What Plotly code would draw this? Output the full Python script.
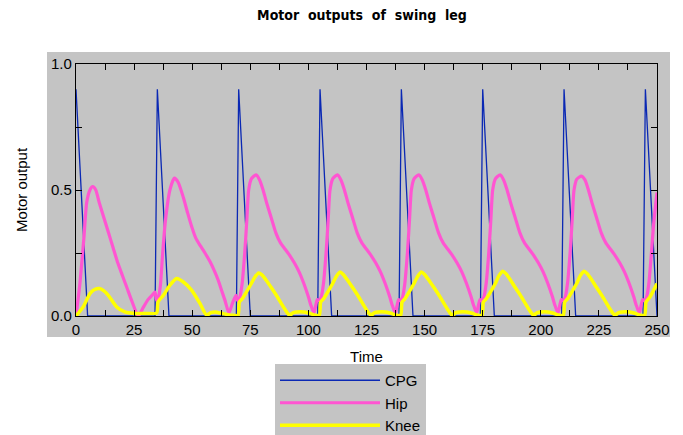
import plotly.graph_objects as go

# ---- data ----
cpg_time = [0, 5, 34, 35, 40, 69, 70, 75, 104, 105, 110, 139, 140, 145,
            174, 175, 180, 209, 210, 215, 244, 245, 250]
cpg_value = [0.9, 0, 0, 0.9, 0, 0, 0.9, 0, 0, 0.9, 0, 0, 0.9, 0,
             0, 0.9, 0, 0, 0.9, 0, 0, 0.9, 0]

hip_time = [
    0, 1.7, 3.4, 4.6, 6, 7.2, 8.5, 10, 12, 14, 16, 18, 20, 22, 24, 26.8, 29, 31, 33, 34, 34.7,
    35.5, 36.3, 37.3, 38.5, 40.4, 42.3, 44, 46.2, 48, 49.8, 51.5, 53.4, 55.5, 57.7, 59.5, 61.2, 62.7, 64.1, 65.8, 67.3, 68.8, 69.6,
    70.5, 71.5, 72.6, 73.5, 74.3, 75.5, 77.5, 79, 80.5, 82, 84, 86, 88, 90, 92, 94, 96, 98, 100, 101, 102.4, 103.8, 104.6,
    105.5, 106.5, 107.6, 108.5, 109.3, 110.5, 112.5, 114, 115.5, 117, 119, 121, 123, 125, 127, 129, 131, 133, 135, 136, 137.4, 138.8, 139.6,
    140.5, 141.5, 142.6, 143.5, 144.3, 145.5, 147.5, 149, 150.5, 152, 154, 156, 158, 160, 162, 164, 166, 168, 170, 171, 172.4, 173.8, 174.6,
    175.5, 176.5, 177.6, 178.5, 179.3, 180.5, 182.5, 184, 185.5, 187, 189, 191, 193, 195, 197, 199, 201, 203, 205, 206, 207.4, 208.8, 209.6,
    210.5, 211.5, 212.6, 213.5, 214.3, 215.5, 217.5, 219, 220.5, 222, 224, 226, 228, 230, 232, 234, 236, 238, 240, 241, 242.4, 243.8, 244.6,
    245.5, 246.5, 247.6, 248.5, 250,
]
hip_value = [
    0, 0.13, 0.31, 0.45, 0.50, 0.513, 0.50, 0.45, 0.39, 0.33, 0.27, 0.21, 0.16, 0.11, 0.06, 0.0, 0.035, 0.065, 0.085, 0.095, 0.062,
    0.075, 0.12, 0.25, 0.38, 0.50, 0.547, 0.53, 0.47, 0.41, 0.354, 0.31, 0.28, 0.25, 0.215, 0.18, 0.142, 0.10, 0.062, 0.012, 0.05, 0.082, 0.06,
    0.075, 0.13, 0.25, 0.38, 0.50, 0.545, 0.56, 0.54, 0.50, 0.45, 0.39, 0.33, 0.29, 0.265, 0.24, 0.21, 0.175, 0.13, 0.076, 0.045, 0.012, 0.065, 0.062,
    0.075, 0.13, 0.25, 0.38, 0.50, 0.545, 0.56, 0.54, 0.50, 0.45, 0.39, 0.33, 0.29, 0.265, 0.24, 0.21, 0.175, 0.13, 0.076, 0.045, 0.012, 0.065, 0.062,
    0.075, 0.13, 0.25, 0.38, 0.50, 0.545, 0.56, 0.54, 0.50, 0.45, 0.39, 0.33, 0.29, 0.265, 0.24, 0.21, 0.175, 0.13, 0.076, 0.045, 0.012, 0.065, 0.062,
    0.075, 0.13, 0.25, 0.38, 0.50, 0.545, 0.56, 0.54, 0.50, 0.45, 0.39, 0.33, 0.29, 0.265, 0.24, 0.21, 0.175, 0.13, 0.076, 0.045, 0.012, 0.065, 0.062,
    0.075, 0.13, 0.25, 0.38, 0.50, 0.543, 0.555, 0.54, 0.50, 0.45, 0.39, 0.33, 0.29, 0.265, 0.24, 0.21, 0.175, 0.13, 0.076, 0.045, 0.012, 0.065, 0.062,
    0.075, 0.13, 0.25, 0.36, 0.49,
]

knee_time = [
    0, 3.1, 6, 8, 10, 12, 13.9, 17.5, 21, 25, 30, 34.7,
    35.3, 37.6, 40.4, 43.3, 46.2, 49.8, 53.4, 56.2, 58, 59.8, 63.4, 67, 69.7,
    70.3, 71.5, 73, 75.5, 77, 78.6, 80, 82, 84, 86, 88, 90, 91.8, 93.5, 95, 98, 100, 103, 104.7,
    105.3, 106.5, 108, 110.5, 112, 113.6, 115, 117, 119, 121, 123, 125, 126.8, 128.5, 130, 133, 135, 138, 139.7,
    140.3, 141.5, 143, 145.5, 147, 148.6, 150, 152, 154, 156, 158, 160, 161.8, 163.5, 165, 168, 170, 173, 174.7,
    175.3, 176.5, 178, 180.5, 182, 183.6, 185, 187, 189, 191, 193, 195, 196.8, 198.5, 200, 203, 205, 208, 209.7,
    210.3, 211.5, 213, 215.5, 217, 218.6, 220, 222, 224, 226, 228, 230, 231.8, 233.5, 235, 238, 240, 243, 244.7,
    245.3, 247, 250,
]
knee_value = [
    0, 0.036, 0.089, 0.105, 0.109, 0.10, 0.082, 0.036, 0.016, 0.01, 0.01, 0.012,
    0.056, 0.082, 0.122, 0.149, 0.135, 0.102, 0.049, 0.003, 0.013, 0.016, 0.009, 0.003, 0.003,
    0.056, 0.068, 0.09, 0.13, 0.155, 0.171, 0.163, 0.14, 0.113, 0.085, 0.055, 0.025, 0.003, 0.013, 0.016, 0.016, 0.012, 0.003, 0.003,
    0.056, 0.068, 0.09, 0.13, 0.157, 0.175, 0.165, 0.14, 0.113, 0.085, 0.055, 0.025, 0.003, 0.013, 0.016, 0.016, 0.012, 0.003, 0.003,
    0.056, 0.068, 0.09, 0.13, 0.157, 0.175, 0.165, 0.14, 0.113, 0.085, 0.055, 0.025, 0.003, 0.013, 0.016, 0.016, 0.012, 0.003, 0.003,
    0.056, 0.068, 0.09, 0.13, 0.16, 0.178, 0.168, 0.142, 0.113, 0.085, 0.055, 0.025, 0.003, 0.013, 0.016, 0.016, 0.012, 0.003, 0.003,
    0.056, 0.068, 0.09, 0.13, 0.16, 0.178, 0.168, 0.142, 0.113, 0.085, 0.055, 0.025, 0.003, 0.013, 0.016, 0.016, 0.012, 0.003, 0.003,
    0.056, 0.076, 0.129,
]

y_tick_values = [0, 0.5, 1.0]
y_tick_labels = ["0.0", "0.5", "1.0"]
x_tick_values = [0, 25, 50, 75, 100, 125, 150, 175, 200, 225, 250]

GRAY = "#c4c4c4"
FONT = "Liberation Sans, Arial, sans-serif"
W, H = 683, 450
PL, PR, PT, PB = 76, 657, 64, 316   # plot-area edges in pixels

fig = go.Figure()
fig.add_trace(go.Scatter(x=cpg_time, y=cpg_value, mode="lines", name="CPG",
                         line=dict(color="#0a28b4", width=1.3)))
fig.add_trace(go.Scatter(x=hip_time, y=hip_value, mode="lines", name="Hip",
                         line=dict(color="#ff55d2", width=3.2, shape="spline", smoothing=0.6)))
fig.add_trace(go.Scatter(x=knee_time, y=knee_value, mode="lines", name="Knee",
                         line=dict(color="#ffff00", width=3.5, shape="spline", smoothing=0.6)))

axis_common = dict(showline=True, linecolor="black", linewidth=1.2, mirror="ticks",
                   ticks="inside", ticklen=6, tickwidth=1.2, tickcolor="black",
                   showgrid=False, zeroline=False,
                   tickfont=dict(family=FONT, size=15, color="black"))

fig.update_xaxes(range=[0, 250], tickvals=x_tick_values,
                 minor=dict(dtick=12.5, tick0=0, ticks="inside", ticklen=6, tickwidth=1.2, tickcolor="black", showgrid=False),
                 title=dict(text="Time", font=dict(family=FONT, size=15, color="black"), standoff=14),
                 **axis_common)
fig.update_yaxes(range=[0, 1.0], tickvals=y_tick_values, ticktext=y_tick_labels,
                 minor=dict(dtick=0.25, tick0=0, ticks="inside", ticklen=6, tickwidth=1.2, tickcolor="black", showgrid=False),
                 title=dict(text="Motor output", font=dict(family=FONT, size=15, color="black"), standoff=19),
                 **axis_common)

pw, ph = PR - PL, PB - PT
fig.add_shape(type="rect", xref="paper", yref="paper",
              x0=(47 - PL) / pw, x1=(670 - PL) / pw, y0=(PB - 337) / ph, y1=(PB - 52) / ph,
              fillcolor=GRAY, line=dict(width=0), layer="below")

fig.update_layout(
    width=W, height=H,
    margin=dict(l=PL, r=W - PR, t=PT, b=H - PB, autoexpand=False),
    paper_bgcolor="white", plot_bgcolor=GRAY,
    title=dict(text="Motor  outputs  of  swing  leg", x=0.53, xanchor="center",
               y=1 - 15 / H, yanchor="middle",
               font=dict(family="DejaVu Sans Condensed, DejaVu Sans", size=14, color="black", weight="bold")),
    legend=dict(x=(275 - PL) / pw, xanchor="left", y=(PB - 364) / ph, yanchor="top",
                bgcolor=GRAY, font=dict(family=FONT, size=15, color="black"), itemwidth=100,
                tracegroupgap=0),
    showlegend=True,
)

fig.write_html("out.html", config={"displayModeBar": False},
               post_script="document.body.style.margin='0px';document.body.style.overflow='hidden';")
